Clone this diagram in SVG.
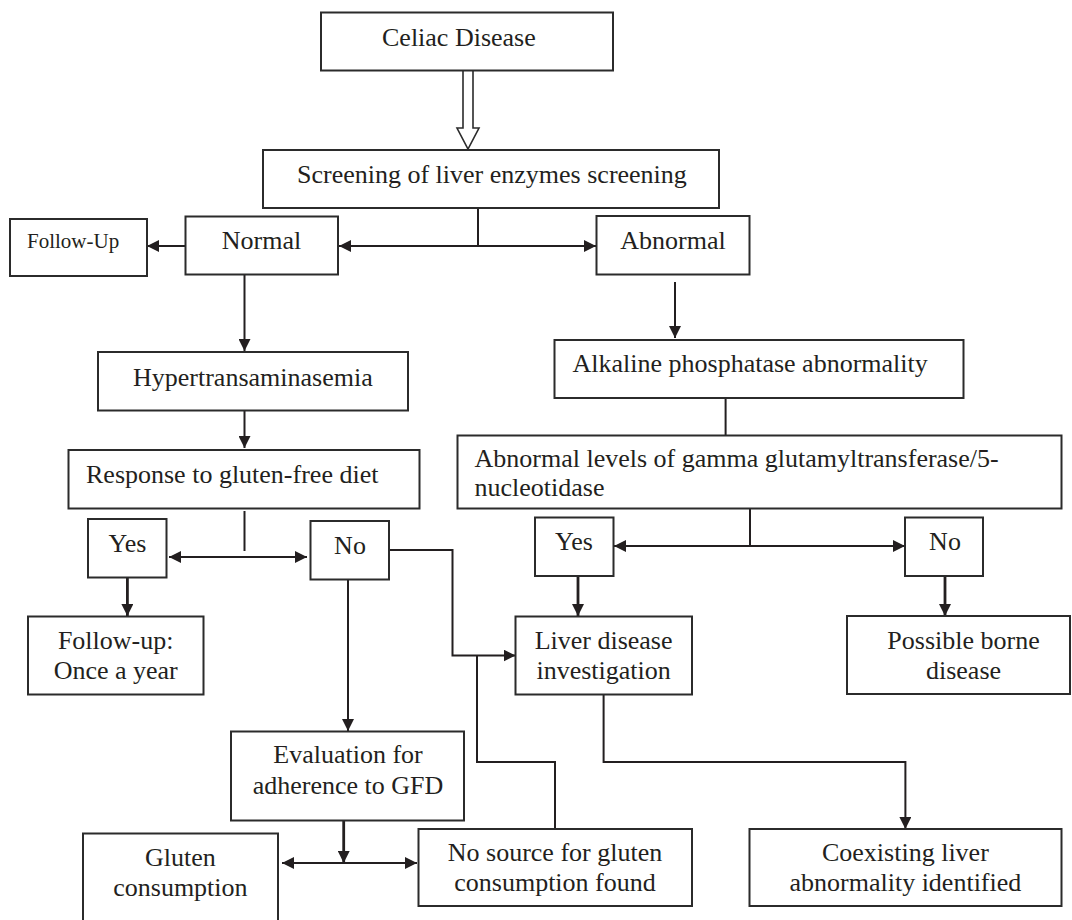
<svg xmlns="http://www.w3.org/2000/svg" width="1072" height="920" viewBox="0 0 1072 920">
<defs>
<style>
.box{fill:#fff;stroke:#2b2b2b;stroke-width:2}
.t{font-family:"Liberation Serif","Times New Roman",serif;font-size:26px;fill:#231f20}
.m{text-anchor:middle}
.ln{fill:none;stroke:#231f20;stroke-width:2}
.thick{stroke-width:2.8}
.arr{marker-end:url(#ah)}
.both{marker-start:url(#ah);marker-end:url(#ah)}
</style>
<marker id="ah" viewBox="0 0 12 12" refX="12" refY="6" markerWidth="12" markerHeight="12" markerUnits="userSpaceOnUse" orient="auto-start-reverse">
<path d="M0,0 L12,6 L0,12 z" fill="#231f20"/>
</marker>
</defs>
<rect width="1072" height="920" fill="#fff"/>

<g id="connectors">
<polygon points="463,70 463,128 457,128 468,149 479,128 473,128 473,70" fill="#fff" stroke="#2b2b2b" stroke-width="1.6"/>
<line class="ln" x1="478" y1="208" x2="478" y2="246"/>
<line class="ln both" x1="339" y1="246" x2="596" y2="246"/>
<line class="ln arr" x1="185" y1="246" x2="147" y2="246"/>
<line class="ln arr" x1="244.5" y1="274" x2="244.5" y2="351"/>
<line class="ln arr" x1="244.5" y1="411" x2="244.5" y2="448"/>
<line class="ln" x1="244.5" y1="511" x2="244.5" y2="551"/>
<line class="ln both" x1="169" y1="557" x2="307" y2="557"/>
<line class="ln arr" x1="348" y1="579" x2="348" y2="731"/>
<path class="ln arr" d="M389,550 H452.5 V655.5 H515.5"/>
<path class="ln" d="M555,829 V762 H477 V655.5"/>
<line class="ln arr thick" x1="127.4" y1="578" x2="127.4" y2="616"/>
<line class="ln arr" x1="675" y1="282" x2="675" y2="338"/>
<line class="ln" x1="725.6" y1="397" x2="725.6" y2="435"/>
<line class="ln" x1="750" y1="508" x2="750" y2="546"/>
<line class="ln both" x1="614" y1="546" x2="905" y2="546"/>
<line class="ln arr thick" x1="578" y1="576" x2="578" y2="616"/>
<line class="ln arr thick" x1="945" y1="576" x2="945" y2="616"/>
<path class="ln arr" d="M603.6,695 V762 H905.4 V829"/>
<line class="ln arr thick" x1="343.7" y1="820" x2="343.7" y2="863"/>
<line class="ln both" x1="282" y1="863" x2="417" y2="863"/>
</g>

<g id="celiac"><rect class="box" x="321" y="12.5" width="292" height="58"/><text class="t" x="382" y="46">Celiac Disease</text></g>
<g id="screening"><rect class="box" x="263" y="150" width="456" height="58"/><text class="t" x="297" y="183">Screening of liver enzymes screening</text></g>
<g id="followup1"><rect class="box" x="10" y="219" width="137" height="57"/><text class="t" x="27" y="248" style="font-size:21px">Follow-Up</text></g>
<g id="normal"><rect class="box" x="185.5" y="216.5" width="152.5" height="58"/><text class="t m" x="261.5" y="249">Normal</text></g>
<g id="abnormal"><rect class="box" x="596.5" y="216" width="153" height="58.5"/><text class="t m" x="673" y="249">Abnormal</text></g>
<g id="hyper"><rect class="box" x="98" y="352" width="310" height="58.5"/><text class="t" x="133" y="386">Hypertransaminasemia</text></g>
<g id="response"><rect class="box" x="68.5" y="450" width="351" height="58.5"/><text class="t" x="86" y="483">Response to gluten-free diet</text></g>
<g id="yes1"><rect class="box" x="88" y="519" width="78.5" height="58.5"/><text class="t m" x="127.5" y="552">Yes</text></g>
<g id="no1"><rect class="box" x="310.5" y="521" width="78.5" height="58.5"/><text class="t m" x="350" y="554">No</text></g>
<g id="alkaline"><rect class="box" x="554.5" y="340" width="409" height="58"/><text class="t" x="572.5" y="372">Alkaline phosphatase abnormality</text></g>
<g id="ggt"><rect class="box" x="457.5" y="435.5" width="604" height="73"/><text class="t" x="474.5" y="467">Abnormal levels of gamma glutamyltransferase/5-</text><text class="t" x="474.5" y="496">nucleotidase</text></g>
<g id="yes2"><rect class="box" x="535" y="517.5" width="78.5" height="58.5"/><text class="t m" x="574" y="550">Yes</text></g>
<g id="no2"><rect class="box" x="905" y="517.5" width="78" height="58.5"/><text class="t m" x="945" y="550">No</text></g>
<g id="followup2"><rect class="box" x="28" y="616.5" width="175.5" height="78"/><text class="t m" x="115.7" y="649">Follow-up:</text><text class="t m" x="115.7" y="679">Once a year</text></g>
<g id="liver"><rect class="box" x="515.5" y="616.5" width="176.5" height="78"/><text class="t m" x="603.6" y="649">Liver disease</text><text class="t m" x="603.6" y="679">investigation</text></g>
<g id="possible"><rect class="box" x="847" y="616" width="223" height="78"/><text class="t m" x="963.5" y="649">Possible borne</text><text class="t m" x="963.5" y="679">disease</text></g>
<g id="evaluation"><rect class="box" x="231" y="731.5" width="233" height="89"/><text class="t m" x="348" y="763">Evaluation for</text><text class="t m" x="348" y="794">adherence to GFD</text></g>
<g id="gluten"><rect class="box" x="83" y="833.5" width="195" height="95"/><text class="t m" x="180.4" y="866">Gluten</text><text class="t m" x="180.4" y="896">consumption</text></g>
<g id="nosource"><rect class="box" x="418.5" y="829" width="273.5" height="77"/><text class="t m" x="555" y="861">No source for gluten</text><text class="t m" x="555" y="891">consumption found</text></g>
<g id="coexisting"><rect class="box" x="749.5" y="829" width="312" height="77"/><text class="t m" x="905.4" y="861">Coexisting liver</text><text class="t m" x="905.4" y="891">abnormality identified</text></g>
</svg>
